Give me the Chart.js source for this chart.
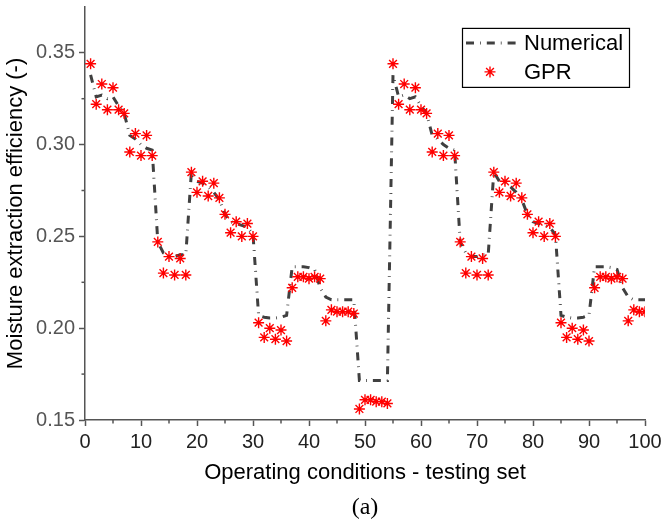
<!DOCTYPE html>
<html>
<head>
<meta charset="utf-8">
<script src="https://cdn.jsdelivr.net/npm/chart.js@4/dist/chart.umd.min.js"></script>
<style>
  body { margin: 0; background: #fff; }
  canvas { display: block; }
</style>
</head>
<body>
<canvas id="myChart" width="662" height="524"></canvas>
<script>
// testing set index 1..100
const conditions = Array.from({ length: 100 }, (_, i) => i + 1);

const numericalValues = [
    0.338, 0.326, 0.327, 0.325, 0.326, 0.321, 0.317, 0.305, 0.303, 0.300,
    0.298, 0.297, 0.247, 0.241, 0.239, 0.239, 0.240, 0.240, 0.285, 0.280,
    0.279, 0.277, 0.274, 0.270, 0.262, 0.258, 0.257, 0.256, 0.255, 0.251,
    0.207, 0.206, 0.2055, 0.2055, 0.206, 0.207, 0.2335, 0.2335, 0.2335, 0.233,
    0.232, 0.222, 0.217, 0.2155, 0.2155, 0.2155, 0.2155, 0.2155, 0.1715, 0.1715,
    0.1715, 0.1715, 0.1715, 0.1715, 0.338, 0.326, 0.327, 0.325, 0.326, 0.321,
    0.317, 0.305, 0.303, 0.300, 0.298, 0.297, 0.247, 0.241, 0.239, 0.239,
    0.240, 0.240, 0.285, 0.280, 0.279, 0.277, 0.274, 0.270, 0.262, 0.258,
    0.257, 0.256, 0.255, 0.251, 0.207, 0.206, 0.2055, 0.2055, 0.206, 0.207,
    0.2335, 0.2335, 0.2335, 0.233, 0.232, 0.222, 0.217, 0.2155, 0.2155, 0.2155
];

const gprValues = [
    0.344, 0.322, 0.333, 0.319, 0.331, 0.319, 0.317, 0.296, 0.306, 0.294,
    0.305, 0.294, 0.247, 0.230, 0.239, 0.229, 0.238, 0.229, 0.285, 0.274,
    0.280, 0.272, 0.279, 0.271, 0.262, 0.252, 0.258, 0.250, 0.257, 0.250,
    0.203, 0.195, 0.200, 0.194, 0.199, 0.193, 0.222, 0.228, 0.228, 0.227,
    0.228, 0.227, 0.204, 0.210, 0.209, 0.209, 0.209, 0.208, 0.156, 0.161,
    0.161, 0.160, 0.160, 0.159, 0.344, 0.322, 0.333, 0.319, 0.331, 0.319,
    0.317, 0.296, 0.306, 0.294, 0.305, 0.294, 0.247, 0.230, 0.239, 0.229,
    0.238, 0.229, 0.285, 0.274, 0.280, 0.272, 0.279, 0.271, 0.262, 0.252,
    0.258, 0.250, 0.257, 0.250, 0.203, 0.195, 0.200, 0.194, 0.199, 0.193,
    0.222, 0.228, 0.228, 0.227, 0.228, 0.227, 0.204, 0.210, 0.209, 0.209
];

const seriesLabels = ['Numerical', 'GPR'];

const FONT = "'Liberation Sans', Arial, sans-serif";
const AXIS_COLOR = '#555';

function toPoints(values) {
    return conditions.map((c, i) => ({ x: c, y: values[i] }));
}

// outward minor ticks halfway between the major ones
const minorTicks = {
    id: 'minorTicks',
    afterDraw(chart) {
        const ctx = chart.ctx;
        const area = chart.chartArea;
        ctx.save();
        ctx.strokeStyle = AXIS_COLOR;
        ctx.lineWidth = 1.5;
        ['x', 'y'].forEach(id => {
            const scale = chart.scales[id];
            const ticks = scale.ticks;
            for (let i = 0; i < ticks.length - 1; i++) {
                const mid = (ticks[i].value + ticks[i + 1].value) / 2;
                const p = scale.getPixelForValue(mid);
                ctx.beginPath();
                if (id === 'x') {
                    ctx.moveTo(p, area.bottom);
                    ctx.lineTo(p, area.bottom + 3.5);
                } else {
                    ctx.moveTo(area.left, p);
                    ctx.lineTo(area.left - 3.5, p);
                }
                ctx.stroke();
            }
        });
        ctx.restore();
    }
};

// boxed legend in the top right corner of the plot
const boxLegend = {
    id: 'boxLegend',
    afterDraw(chart) {
        const ctx = chart.ctx;
        const area = chart.chartArea;
        const right = area.right - 16;
        const top = area.top + 21;
        const w = 167, h = 59;
        const left = right - w;
        ctx.save();
        ctx.strokeStyle = '#000';
        ctx.lineWidth = 1.2;
        ctx.strokeRect(left + 0.5, top + 0.5, w, h);

        const line = chart.data.datasets[1];
        ctx.strokeStyle = line.borderColor;
        ctx.lineWidth = line.borderWidth;
        ctx.setLineDash(line.borderDash);
        ctx.beginPath();
        ctx.moveTo(left + 4, top + 15);
        ctx.lineTo(left + 54, top + 15);
        ctx.stroke();
        ctx.setLineDash([]);

        const pts = chart.data.datasets[0];
        ctx.strokeStyle = pts.borderColor;
        ctx.fillStyle = pts.backgroundColor;
        ctx.lineWidth = pts.borderWidth;
        Chart.helpers.drawPoint(ctx, {
            pointStyle: pts.pointStyle,
            radius: pts.pointRadius,
            borderWidth: pts.borderWidth
        }, left + 28, top + 44);

        ctx.fillStyle = '#000';
        ctx.font = '22px ' + FONT;
        ctx.textBaseline = 'middle';
        ctx.fillText(line.label, left + 62, top + 16);
        ctx.fillText(pts.label, left + 62, top + 45);
        ctx.restore();
    },
    beforeDraw(chart) {
        chart.ctx.save();
        chart.ctx.fillStyle = '#fff';
        chart.ctx.fillRect(0, 0, chart.width, chart.height);
        chart.ctx.restore();
    }
};

const ctx = document.getElementById('myChart').getContext('2d');
new Chart(ctx, {
    type: 'line',
    data: {
        datasets: [
            {
                label: seriesLabels[1],
                data: toPoints(gprValues),
                showLine: false,
                pointStyle: 'star',
                pointRadius: 5.5,
                borderWidth: 1.4,
                borderColor: '#ff0000',
                backgroundColor: '#ff0000',
                order: 0
            },
            {
                label: seriesLabels[0],
                data: toPoints(numericalValues),
                borderColor: '#404040',
                borderWidth: 3,
                borderDash: [8, 6, 0.8, 6],
                pointRadius: 0,
                tension: 0,
                fill: false,
                order: 1
            }
        ]
    },
    options: {
        responsive: false,
        animation: false,
        layout: { padding: { top: 2, right: 17, left: 0, bottom: 0 } },
        plugins: {
            legend: { display: false },
            tooltip: { enabled: false },
            title: {
                display: true,
                text: '(a)',
                position: 'bottom',
                fullSize: false,
                color: '#000',
                font: { family: "'Liberation Serif', 'Times New Roman', serif", size: 24, weight: 'normal' },
                padding: { top: 0, bottom: 2 }
            }
        },
        scales: {
            x: {
                type: 'linear',
                min: 0,
                max: 100,
                afterFit(scale) {
                    scale.height = 73.2;
                    scale.paddingLeft = 0;
                    scale.paddingRight = 0;
                },
                border: { color: AXIS_COLOR, width: 1.5 },
                grid: { drawOnChartArea: false, tickLength: 6, tickColor: AXIS_COLOR, tickWidth: 1.5 },
                ticks: {
                    stepSize: 10,
                    autoSkip: false,
                    maxRotation: 0,
                    padding: 4,
                    color: '#222',
                    font: { family: FONT, size: 20 }
                },
                title: {
                    display: true,
                    text: 'Operating conditions - testing set',
                    color: '#000',
                    font: { family: FONT, size: 22 },
                    padding: { top: 0, bottom: 7 }
                }
            },
            y: {
                min: 0.15,
                max: 0.375,
                afterFit(scale) {
                    scale.width = 85;
                    scale.paddingTop = 0;
                    scale.paddingBottom = 0;
                },
                border: { color: AXIS_COLOR, width: 1.5 },
                grid: { drawOnChartArea: false, tickLength: 6, tickColor: AXIS_COLOR, tickWidth: 1.5 },
                ticks: {
                    stepSize: 0.05,
                    includeBounds: false,
                    padding: 4,
                    color: '#555',
                    font: { family: FONT, size: 20 },
                    callback: v => v.toFixed(2)
                },
                title: {
                    display: true,
                    text: 'Moisture extraction efficiency (-)',
                    color: '#000',
                    font: { family: FONT, size: 22 },
                    padding: { top: 3, bottom: 0 }
                }
            }
        }
    },
    plugins: [minorTicks, boxLegend]
});
</script>
</body>
</html>
